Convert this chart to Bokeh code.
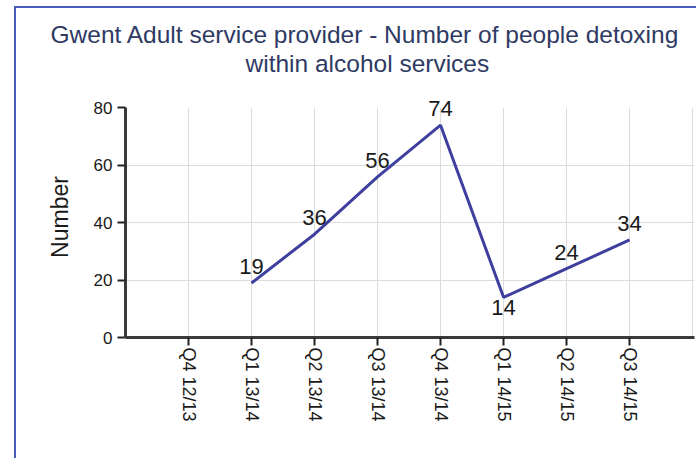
import math
from bokeh.plotting import figure
from bokeh.models import (ColumnDataSource, LabelSet, FixedTicker, Range1d,
                          BoxAnnotation, Title)
from bokeh.core.properties import value
from bokeh.embed import file_html
from bokeh.resources import INLINE

categories = ["Q4 12/13", "Q1 13/14", "Q2 13/14", "Q3 13/14", "Q4 13/14",
              "Q1 14/15", "Q2 14/15", "Q3 14/15"]
values = [None, 19, 36, 56, 74, 14, 24, 34]
y_ticks = [0, 20, 40, 60, 80]
title_lines = ["Gwent Adult service provider - Number of people detoxing",
               "within alcohol services"]
y_label = "Number"
labels_below = ["Q1 14/15"]

positions = list(range(1, len(categories) + 1))
pts = [(x, v, c) for x, v, c in zip(positions, values, categories) if v is not None]
xs = [a for a, _, _ in pts]
ys = [b for _, b, _ in pts]

above = ColumnDataSource(dict(
    x=[a for a, b, c in pts if c not in labels_below],
    y=[b for a, b, c in pts if c not in labels_below],
    t=[str(b) for a, b, c in pts if c not in labels_below]))
below = ColumnDataSource(dict(
    x=[a for a, b, c in pts if c in labels_below],
    y=[b for a, b, c in pts if c in labels_below],
    t=[str(b) for a, b, c in pts if c in labels_below]))

FONT = "Liberation Sans"
TXT = "#1a1a1a"
BORDER = "#4A5BC0"

p = figure(width=682, height=452,
           x_range=Range1d(0, len(categories) + 1.03),
           y_range=Range1d(y_ticks[0], y_ticks[-1] + 4),
           output_backend="svg", toolbar_location=None,
           min_border_left=109, min_border_right=4,
           min_border_top=88, min_border_bottom=123)
# outer chart border (left and top edges visible in the window)
p.styles = {"margin-left": "14px", "margin-top": "6px",
            "border-left": f"2px solid {BORDER}",
            "border-top": f"2px solid {BORDER}"}
p.outline_line_color = None
p.background_fill_color = "white"
p.border_fill_color = "white"

p.line(xs, ys, line_color="#3E3F9E", line_width=3)

# axes
ax = p.xaxis[0]
ax.ticker = FixedTicker(ticks=positions)
ax.major_label_overrides = {x: c for x, c in zip(positions, categories)}
ax.major_label_orientation = -math.pi / 2
ax.major_label_text_font = FONT
ax.major_label_text_font_size = "18px"
ax.major_label_text_color = TXT
ax.axis_line_width = 3
ax.axis_line_color = "#3a3a3a"
ax.major_tick_out = 8
ax.major_tick_in = 0
ax.major_tick_line_width = 2
ax.major_tick_line_color = "#222222"
ax.minor_tick_line_color = None
ax.major_label_standoff = 2

ay = p.yaxis[0]
ay.ticker = FixedTicker(ticks=y_ticks)
ay.bounds = (y_ticks[0], y_ticks[-1])
ay.major_label_text_font = FONT
ay.major_label_text_font_size = "17px"
ay.major_label_text_color = TXT
ay.axis_line_width = 3
ay.axis_line_color = "#3a3a3a"
ay.major_tick_out = 8
ay.major_tick_in = 0
ay.major_tick_line_width = 2
ay.major_tick_line_color = "#222222"
ay.minor_tick_line_color = None
ay.major_label_standoff = 5
ay.axis_label = y_label
ay.axis_label_text_font = FONT
ay.axis_label_text_font_size = "23px"
ay.axis_label_text_font_style = "normal"
ay.axis_label_text_color = TXT
ay.axis_label_standoff = 18

p.xgrid.ticker = FixedTicker(ticks=list(range(1, len(categories) + 2)))
p.xgrid.grid_line_color = "#dcdcdc"
p.ygrid.grid_line_color = "#dcdcdc"
# hide grid above the top tick
p.add_layout(BoxAnnotation(bottom=y_ticks[-1], fill_color="white", fill_alpha=1,
                           line_color=None, level="underlay"))

p.add_layout(LabelSet(x="x", y="y", text="t", source=above, text_align="center",
                      text_baseline="alphabetic", y_offset=9, text_font=value(FONT),
                      text_font_size="22px", text_color=TXT))
p.add_layout(LabelSet(x="x", y="y", text="t", source=below, text_align="center",
                      text_baseline="top", y_offset=-3, text_font=value(FONT),
                      text_font_size="22px", text_color=TXT))

# title: spacer then line 2 then line 1 (stacked upward from the frame)
p.add_layout(Title(text=" ", text_font_size="10px", standoff=7), "above")
p.add_layout(Title(text=title_lines[1], align="left", offset=120, standoff=0,
                   text_font=FONT, text_font_size="24.5px", text_font_style="normal",
                   text_color="#2E3A63"), "above")
p.add_layout(Title(text=title_lines[0], align="left", offset=-75, standoff=0,
                   text_font=FONT, text_font_size="24.5px", text_font_style="normal",
                   text_color="#2E3A63"), "above")

open("out.html", "w").write(file_html(p, INLINE))
